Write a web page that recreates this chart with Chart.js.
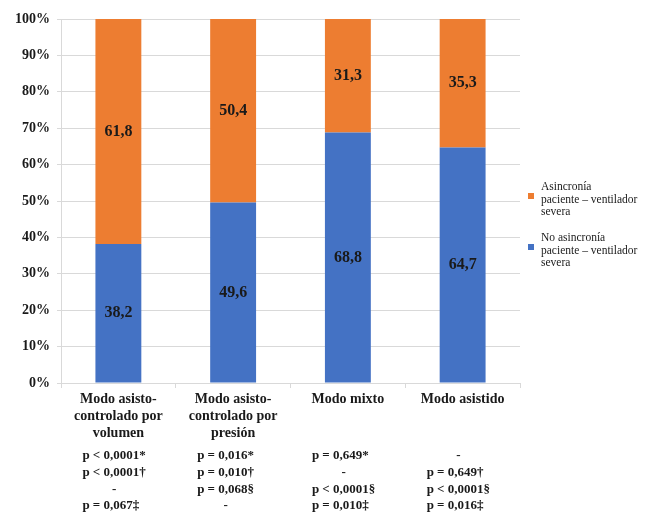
<!DOCTYPE html>
<html>
<head>
<meta charset="utf-8">
<title>Asincronía paciente - ventilador por modo</title>
<script src="https://cdn.jsdelivr.net/npm/chart.js@4.4.1/dist/chart.umd.min.js"></script>
<style>
    body { margin: 0; background: #ffffff; }
    #wrap { position: relative; width: 649px; height: 513px; }
    #legend { position: absolute; left: 528px; top: 0; font-family: "Liberation Serif", "Times New Roman", serif; font-size: 11.5px; line-height: 12.5px; color: #1a1a1a; }
    .item { position: absolute; left: 0; width: 115px; }
    .item span.box { position: absolute; left: 0; width: 6px; height: 6px; }
    .item div.txt { margin-left: 13px; }
</style>
</head>
<body>
<div id="wrap">
    <canvas id="asyncChart" width="649" height="513"></canvas>
    <div id="legend"></div>
</div>
<script>
"use strict";

// Categories (ventilation modes), one array of lines per tick
const categories = [
    ["Modo asisto-", "controlado por", "volumen"],
    ["Modo asisto-", "controlado por", "presión"],
    ["Modo mixto"],
    ["Modo asistido"]
];

// p values printed below each category
const pValues = [
    ["p < 0,0001*", "p < 0,0001\u2020", "-", "p = 0,067\u2021"],
    ["p = 0,016*", "p = 0,010\u2020", "p = 0,068\u00a7", "-"],
    ["p = 0,649*", "-", "p < 0,0001\u00a7", "p = 0,010\u2021"],
    ["-", "p = 0,649\u2020", "p < 0,0001\u00a7", "p = 0,016\u2021"]
];

// Series (percent)
const noAsyncLabel = "No asincronía paciente – ventilador severa";
const noAsyncValues = [38.2, 49.6, 68.8, 64.7];
const asyncLabel = "Asincronía paciente – ventilador severa";
const asyncValues = [61.8, 50.4, 31.3, 35.3];

const blue = "#4472c4";
const orange = "#ed7d31";
const gridGrey = "#d9d9d9";
const serif = "'Liberation Serif', 'Times New Roman', serif";

// write the value in the middle of every bar segment
const segmentLabels = {
    id: "segmentLabels",
    afterDatasetsDraw(chart) {
        let ctx = chart.ctx;
        ctx.save();
        ctx.font = "bold 16px " + serif;
        ctx.fillStyle = "#1a1a1a";
        ctx.textAlign = "center";
        ctx.textBaseline = "middle";
        chart.data.datasets.forEach(function (ds, i) {
            let meta = chart.getDatasetMeta(i);
            meta.data.forEach(function (bar, j) {
                let txt = ds.data[j].toFixed(1).replace(".", ",");
                ctx.fillText(txt, bar.x, (bar.y + bar.base) / 2);
            });
        });
        ctx.restore();
    }
};

// p values under the category names: left aligned block, dashes centred in it
const pValueRows = {
    id: "pValueRows",
    afterDraw(chart) {
        let ctx = chart.ctx;
        let xScale = chart.scales.x;
        let top = chart.chartArea.bottom + 73;
        ctx.save();
        ctx.font = "bold 13px " + serif;
        ctx.fillStyle = "#1a1a1a";
        ctx.textBaseline = "middle";
        pValues.forEach(function (lines, i) {
            let cx = xScale.getPixelForValue(i);
            let left = cx - 36;
            let widest = 0;
            lines.forEach(function (t) {
                if (t !== "-") { widest = Math.max(widest, ctx.measureText(t).width); }
            });
            lines.forEach(function (t, k) {
                let y = top + k * 16.7;
                if (t === "-") {
                    ctx.textAlign = "center";
                    ctx.fillText(t, left + widest / 2, y);
                } else {
                    ctx.textAlign = "left";
                    ctx.fillText(t, left, y);
                }
            });
        });
        ctx.restore();
    }
};

new Chart(document.getElementById("asyncChart").getContext("2d"), {
    type: "bar",
    data: {
        labels: categories,
        datasets: [
            { label: noAsyncLabel, data: noAsyncValues, backgroundColor: blue },
            { label: asyncLabel, data: asyncValues, backgroundColor: orange }
        ]
    },
    options: {
        responsive: false,
        animation: false,
        barPercentage: 0.4,
        categoryPercentage: 1,
        layout: { padding: { top: 19, right: 129, bottom: 0, left: 0 } },
        plugins: {
            legend: { display: false },
            tooltip: { enabled: false }
        },
        scales: {
            x: {
                stacked: true,
                position: "bottom",
                grid: { drawOnChartArea: false, drawTicks: true, tickLength: 5, color: gridGrey, offset: true },
                border: { color: gridGrey },
                ticks: { color: "#1a1a1a", padding: 3, font: { family: serif, size: 14, weight: "bold", lineHeight: 1.22 }, maxRotation: 0, autoSkip: false },
                afterFit: function (s) { s.height = 130; }
            },
            y: {
                stacked: true,
                min: 0,
                max: 100,
                grid: { color: gridGrey, tickLength: 4 },
                border: { color: gridGrey },
                ticks: {
                    stepSize: 10,
                    color: "#1a1a1a",
                    padding: 7,
                    font: { family: serif, size: 14, weight: "bold" },
                    callback: function (v) { return v + "%"; }
                },
                afterFit: function (s) { s.width = 61; }
            }
        }
    },
    plugins: [segmentLabels, pValueRows]
});

// legend drawn as html on the right, orange entry first
function BuildLegend() {
    let legend = document.getElementById("legend");
    let entries = [
        { text: ["Asincronía", "paciente – ventilador", "severa"], color: orange, top: 180 },
        { text: ["No asincronía", "paciente – ventilador", "severa"], color: blue, top: 231 }
    ];
    entries.forEach(function (e) {
        let item = document.createElement("div");
        item.className = "item";
        item.style.top = e.top + "px";
        let box = document.createElement("span");
        box.className = "box";
        box.style.background = e.color;
        box.style.top = "13px";
        item.appendChild(box);
        let txt = document.createElement("div");
        txt.className = "txt";
        txt.innerHTML = e.text.join("<br>");
        item.appendChild(txt);
        legend.appendChild(item);
    });
}
BuildLegend();
</script>
</body>
</html>
